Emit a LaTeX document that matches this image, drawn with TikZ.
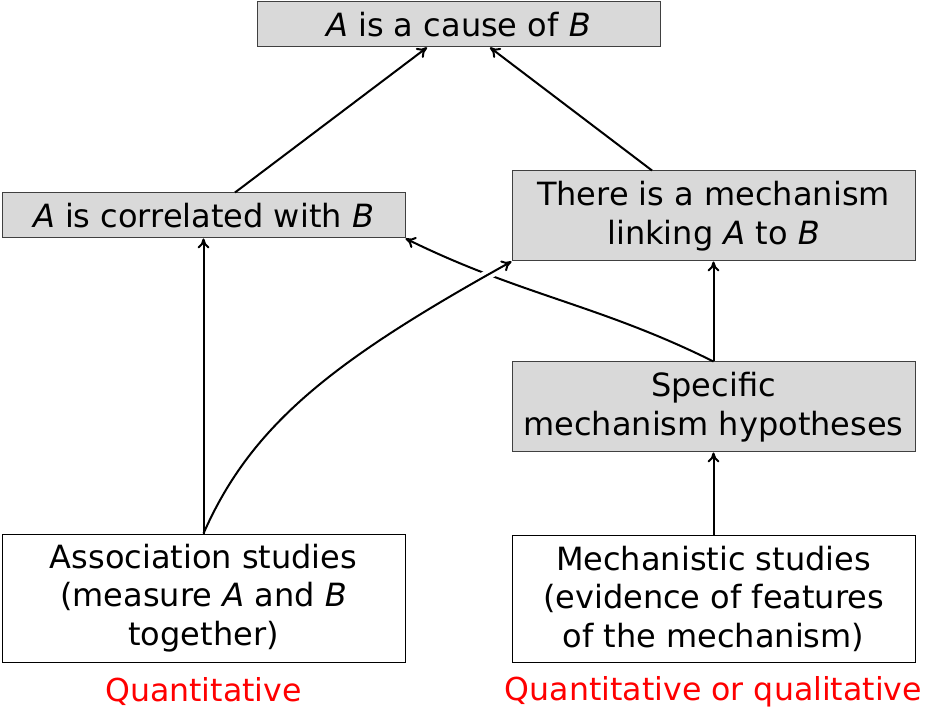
\documentclass[tikz,border=0pt]{standalone}
\usepackage{fontspec}
\setmainfont{DejaVu Sans}
\usetikzlibrary{arrows.meta,calc}
\begin{document}
\begin{tikzpicture}[x=0.5pt,y=-0.5pt,
  every node/.style={font=\fontsize{16}{19.25}\selectfont, align=center, inner sep=0pt},
  claim/.style={draw=black!75, fill=black!15, line width=0.5pt, minimum width=201.5pt},
  study/.style={draw=black, fill=white, line width=0.5pt, minimum width=201.5pt},
  kind/.style={text=red, font=\fontsize{15.8}{19}\selectfont},
  link/.style={line width=1pt, -{To[length=5pt,width=6pt]}}]
\useasboundingbox (0,0) rectangle (925,710);

% claims
\node[claim, minimum height=22.5pt] (cause) at (458.5,24.5) {\textit{A} is a cause of \textit{B}};
\node[claim, minimum height=22.5pt] (corr) at (203.5,215.5) {\textit{A} is correlated with \textit{B}};
\node[claim, minimum height=45pt] (mech) at (713.5,216) {There is a mechanism\\linking \textit{A} to \textit{B}};
\node[claim, minimum height=45pt] (spec) at (713.5,407) {Specific\\mechanism hypotheses};

% kinds of evidence
\node[study, minimum height=64pt] (assoc) at (203.5,598) {Association studies\\(measure \textit{A} and \textit{B}\\together)};
\node[study, minimum height=63.5pt] (mstud) at (713.5,598.5) {Mechanistic studies\\(evidence of features\\of the mechanism)};

\node[kind] (q1) at (203.5,692) {Quantitative};
\node[kind] (q2) at (713.5,692) {Quantitative or qualitative};

% support links
\draw[link] (spec.north) .. controls (600,305) and (520,295) .. (corr.south east);
\draw[link, preaction={draw=white, line width=5pt, -, shorten <=60pt, shorten >=8pt}]
  (assoc.north) .. controls (252,423) and (336,359) .. (mech.south west);
\draw[link] ([xshift=15.75pt]corr.north) -- ([xshift=-15.75pt]cause.south);
\draw[link] ([xshift=-30.75pt]mech.north) -- ([xshift=15.75pt]cause.south);
\draw[link] (assoc.north) -- (corr.south);
\draw[link] (spec.north) -- (mech.south);
\draw[link] (mstud.north) -- (spec.south);
\end{tikzpicture}
\end{document}
